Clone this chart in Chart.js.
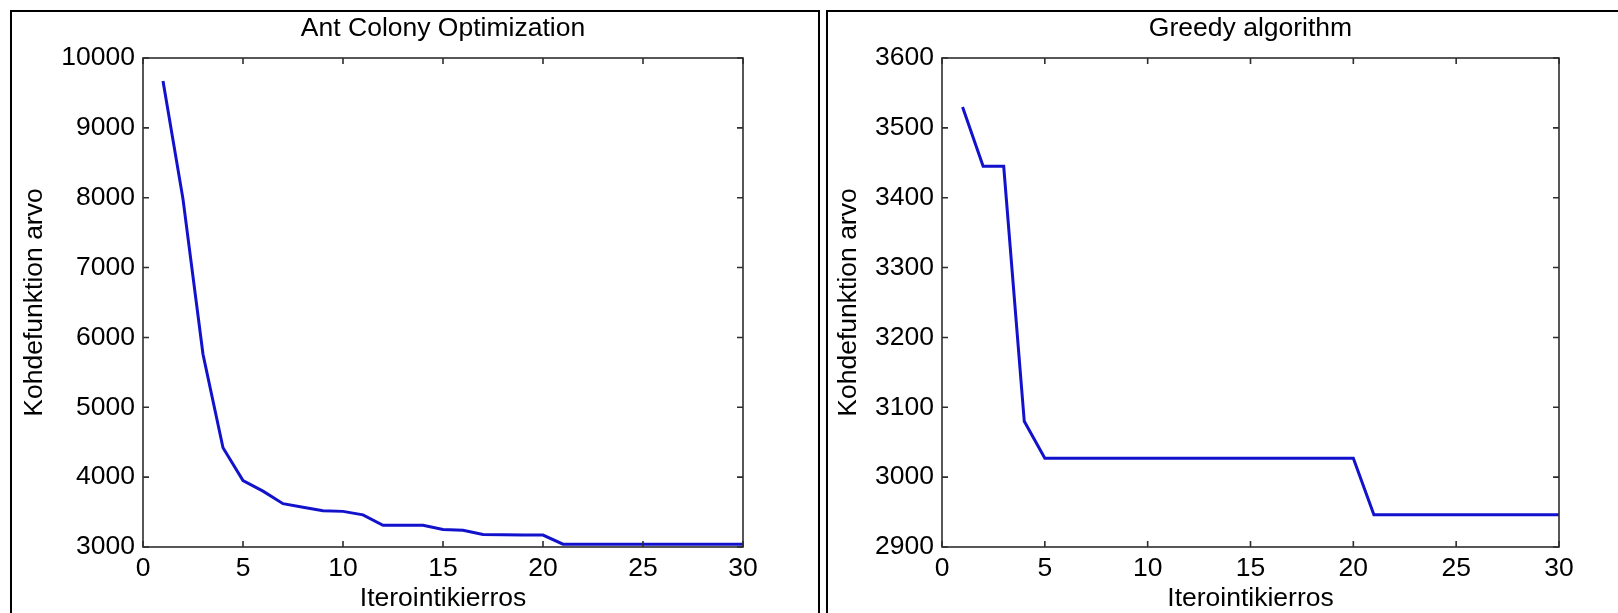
<!DOCTYPE html>
<html><head><meta charset="utf-8">
<script src="https://cdn.jsdelivr.net/npm/chart.js@4.4.1/dist/chart.umd.min.js"></script>
<style>
html,body{margin:0;padding:0;background:#fff;width:1618px;height:613px;overflow:hidden;position:relative;}
.frame{position:absolute;top:10px;height:700px;border:2px solid #000;box-sizing:border-box;}
#f1{left:10px;width:810px;}
#f2{left:826px;width:800px;}
.wrap{position:absolute;top:0;height:613px;}
#w1{left:0;width:820px;}
#w2{left:826px;width:792px;}
canvas{display:block;}
</style></head><body>
<div class="frame" id="f1"></div><div class="frame" id="f2"></div>
<div class="wrap" id="w1"><canvas id="c1" width="820" height="613"></canvas></div>
<div class="wrap" id="w2"><canvas id="c2" width="792" height="613"></canvas></div>
<script>
// ---- data ----
const iterations = [1,2,3,4,5,6,7,8,9,10,11,12,13,14,15,16,17,18,19,20,21,22,23,24,25,26,27,28,29,30];
const acoValues = [9670,7980,5760,4420,3950,3800,3620,3570,3520,3510,3460,3310,3310,3310,3250,3240,3180,3175,3170,3170,3040,3040,3040,3040,3040,3040,3040,3040,3040,3040];
const greedyValues = [3530,3445,3445,3080,3027,3027,3027,3027,3027,3027,3027,3027,3027,3027,3027,3027,3027,3027,3027,3027,2946,2946,2946,2946,2946,2946,2946,2946,2946,2946];
const xTickValues = [0,5,10,15,20,25,30];
const acoYTicks = [3000,4000,5000,6000,7000,8000,9000,10000];
const greedyYTicks = [2900,3000,3100,3200,3300,3400,3500,3600];
const titles = ['Ant Colony Optimization','Greedy algorithm'];
const xLabel = 'Iterointikierros';
const yLabel = 'Kohdefunktion arvo';

const FONT = '"Liberation Sans", Arial, sans-serif';
const FS = 26.5;

const boxTicks = {
  id:'boxTicks',
  afterDatasetsDraw(chart){
    const {ctx, chartArea:a, scales:{x,y}} = chart;
    ctx.save();
    ctx.strokeStyle = '#2e2e2e';
    ctx.lineWidth = 1.6;
    ctx.strokeRect(a.left, a.top, a.right-a.left, a.bottom-a.top);
    const L = 6;
    ctx.beginPath();
    x.ticks.forEach(t => {
      const px = x.getPixelForValue(t.value);
      ctx.moveTo(px, a.bottom); ctx.lineTo(px, a.bottom - L);
      ctx.moveTo(px, a.top); ctx.lineTo(px, a.top + L);
    });
    y.ticks.forEach(t => {
      const py = y.getPixelForValue(t.value);
      ctx.moveTo(a.left, py); ctx.lineTo(a.left + L, py);
      ctx.moveTo(a.right, py); ctx.lineTo(a.right - L, py);
    });
    ctx.stroke();
    ctx.restore();
  }
};

function makeChart(id, title, values, yTicks, g){
  return new Chart(document.getElementById(id), {
    type:'line',
    data:{
      labels: iterations,
      datasets:[{
        data: iterations.map((it,i)=>({x:it, y:values[i]})),
        borderColor:'#1212cc',
        borderWidth:3,
        pointRadius:0,
        tension:0,
        fill:false
      }]
    },
    options:{
      responsive:false,
      animation:false,
      devicePixelRatio:1,
      layout:{padding:{left:0,right:g.padRight,top:0,bottom:0}},
      plugins:{
        legend:{display:false},
        tooltip:{enabled:false},
        title:{
          display:true, text:title, color:'#000', fullSize:false,
          font:{family:FONT,size:FS,weight:'normal',lineHeight:1.2},
          padding:{top:12.6,bottom:13.6}
        }
      },
      scales:{
        x:{
          type:'linear', position:'bottom',
          min:xTickValues[0], max:xTickValues[xTickValues.length-1],
          afterBuildTicks:s=>{ s.ticks = xTickValues.map(v=>({value:v})); },
          afterFit:s=>{ s.height = 66; },
          grid:{display:false, drawTicks:false},
          border:{display:false},
          ticks:{padding:6, color:'#000', autoSkip:false, maxRotation:0,
                 font:{family:FONT,size:FS,lineHeight:1.2}, callback:v=>String(v)},
          title:{display:true, text:xLabel, color:'#000',
                 font:{family:FONT,size:FS,lineHeight:1}, padding:{top:0,bottom:1}}
        },
        y:{
          type:'linear', position:'left',
          min:yTicks[0], max:yTicks[yTicks.length-1],
          afterBuildTicks:s=>{ s.ticks = yTicks.map(v=>({value:v})); },
          afterFit:s=>{ s.width = g.yWidth; },
          grid:{display:false, drawTicks:false},
          border:{display:false},
          ticks:{padding:8, color:'#000', autoSkip:false,
                 font:{family:FONT,size:FS,lineHeight:1.2}, callback:v=>String(v)},
          title:{display:true, text:yLabel, color:'#000',
                 font:{family:FONT,size:FS,lineHeight:1}, padding:{top:g.yTitlePad,bottom:0}}
        }
      }
    },
    plugins:[boxTicks]
  });
}

makeChart('c1', titles[0], acoValues, acoYTicks, {yWidth:143, padRight:77, yTitlePad:21.85});
makeChart('c2', titles[1], greedyValues, greedyYTicks, {yWidth:116, padRight:59, yTitlePad:9.25});
</script>
</body></html>
